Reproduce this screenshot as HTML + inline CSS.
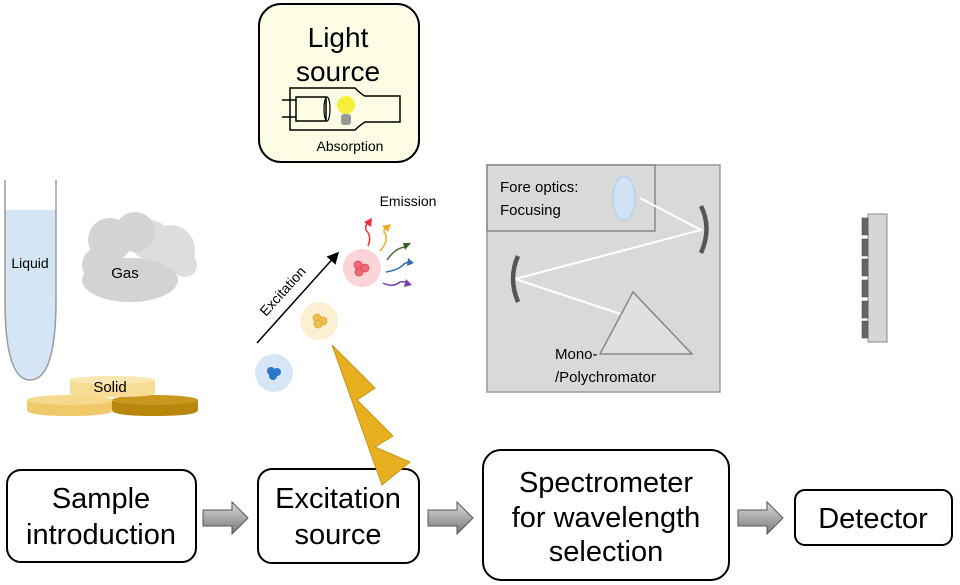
<!DOCTYPE html>
<html><head><meta charset="utf-8"><style>
html,body{margin:0;padding:0;background:#fff;}
svg{display:block;font-family:"Liberation Sans",Arial,sans-serif;}
</style></head><body>
<svg width="960" height="585" viewBox="0 0 960 585" xmlns="http://www.w3.org/2000/svg">
<defs>
<linearGradient id="ag" x1="0" y1="0" x2="0" y2="1"><stop offset="0" stop-color="#d8d8d8"/><stop offset="0.5" stop-color="#aaa"/><stop offset="1" stop-color="#777"/></linearGradient>
<marker id="ah" markerWidth="8" markerHeight="8" refX="6" refY="4" orient="auto"><path d="M0,0 L8,4 L0,8 z" fill="#000"/></marker>
</defs>
<!-- Light source -->
<rect x="259" y="4" width="160" height="158" rx="22" fill="#fdfde6" stroke="#000" stroke-width="2"/>
<text x="338" y="47" font-size="28" text-anchor="middle">Light</text>
<text x="338" y="81" font-size="28" text-anchor="middle">source</text>
<path d="M290,88 H355 Q362,95 365,96 H400 V122 H365 Q360,125 355,130 H290 Z" fill="none" stroke="#000" stroke-width="1.5"/>
<rect x="296" y="97" width="30" height="24" fill="none" stroke="#000" stroke-width="1.5"/>
<ellipse cx="327" cy="109" rx="3" ry="12" fill="none" stroke="#000" stroke-width="1.2"/>
<line x1="282" y1="100" x2="296" y2="100" stroke="#000" stroke-width="1.5"/>
<line x1="282" y1="117" x2="296" y2="117" stroke="#000" stroke-width="1.5"/>
<circle cx="346" cy="105" r="9" fill="#f7ee3a"/>
<rect x="341" y="114" width="10" height="11" rx="3" fill="#999"/>
<text x="350" y="151" font-size="14" text-anchor="middle">Absorption</text>
<!-- Liquid tube -->
<path d="M5,210 V300 Q5,380 30,380 Q56,380 56,300 V210 Z" fill="#d4e6f6"/>
<path d="M5,180 V300 Q5,380 30,380 Q56,380 56,300 V180" fill="none" stroke="#999" stroke-width="1.5"/>
<text x="30" y="268" font-size="14" text-anchor="middle">Liquid</text>
<!-- Gas cloud -->
<g fill="#ddd"><circle cx="170" cy="250" r="25"/><circle cx="150" cy="240" r="20"/><circle cx="185" cy="265" r="12"/></g>
<g fill="#d3d3d3"><ellipse cx="130" cy="280" rx="48" ry="22"/><circle cx="110" cy="240" r="22"/><circle cx="135" cy="232" r="20"/><circle cx="100" cy="265" r="18"/></g>
<text x="125" y="278" font-size="15" text-anchor="middle">Gas</text>
<!-- Solid discs -->
<path d="M112,400 V410 Q112,416 155,416 Q198,416 198,410 V400 Z" fill="#b8860b"/>
<ellipse cx="155" cy="400" rx="43" ry="5" fill="#c9961e"/>
<path d="M27,400 V410 Q27,416 70,416 Q112,416 112,410 V400 Z" fill="#f0c96a"/>
<ellipse cx="70" cy="400" rx="43" ry="5" fill="#f6d98a"/>
<path d="M70,380 V393 Q70,397 112,397 Q155,397 155,393 V380 Z" fill="#f7dc95"/>
<ellipse cx="112" cy="380" rx="43" ry="4" fill="#fae6b0"/>
<text x="110" y="392" font-size="15" text-anchor="middle">Solid</text>
<!-- Excitation -->
<line x1="257" y1="343" x2="337" y2="254" stroke="#000" stroke-width="1.5" marker-end="url(#ah)"/>
<text x="0" y="0" font-size="14" transform="translate(266,317) rotate(-48)">Excitation</text>
<circle cx="274" cy="373" r="19" fill="#d6e6f7"/>
<g fill="#2a76c8"><circle cx="271" cy="371" r="4"/><circle cx="277" cy="372" r="4"/><circle cx="273" cy="376" r="4"/></g>
<circle cx="319" cy="321" r="19" fill="#fdf0d2"/>
<g fill="#eebf50" stroke="#d9a52a" stroke-width="0.7"><circle cx="317" cy="318" r="4"/><circle cx="323" cy="321" r="4"/><circle cx="318" cy="324" r="4"/></g>
<circle cx="362" cy="268" r="19" fill="#fad4d6"/>
<g fill="#ee6672" stroke="#d4434f" stroke-width="0.7"><circle cx="358" cy="265" r="4"/><circle cx="365" cy="268" r="4"/><circle cx="359" cy="272" r="4"/></g>
<text x="408" y="206" font-size="14" text-anchor="middle">Emission</text>
<g fill="none" stroke-width="1.5">
<path d="M368,246 Q372,236 366,230 Q365,225 368,222" stroke="#e8333a"/>
<path d="M380,251 Q390,240 384,232 Q384,228 386,226" stroke="#e8b030"/>
<path d="M387,260 Q395,248 405,247" stroke="#4a6e3a"/>
<path d="M386,272 Q398,270 403,265 Q406,262 410,262" stroke="#2e6db0"/>
<path d="M383,283 Q393,288 400,282 Q404,281 408,283" stroke="#7a3fb0"/>
</g>
<g><path d="M364,222 L372,218 L371,227z" fill="#e8333a"/><path d="M382,226 L391,224 L388,232z" fill="#e8b030"/><path d="M403,243 L411,243 L405,250z" fill="#3a5e2a"/><path d="M408,258 L414,263 L407,266z" fill="#2e6db0"/><path d="M406,279 L412,285 L404,287z" fill="#7a3fb0"/></g>
<!-- Spectrometer panel -->
<rect x="487" y="165" width="233" height="227" fill="#d9d9d9" stroke="#999" stroke-width="1.5"/>
<rect x="487" y="165" width="168" height="66" fill="#d9d9d9" stroke="#888" stroke-width="1.5"/>
<text x="500" y="192" font-size="15">Fore optics:</text>
<text x="500" y="215" font-size="15">Focusing</text>
<ellipse cx="624" cy="198" rx="11" ry="22" fill="#cfe3f5" stroke="#a9cbe9"/>
<polyline points="640,198 701,230 515,279 648,323" fill="none" stroke="#fff" stroke-width="2"/>
<path d="M701,206 Q712,228 701,253" fill="none" stroke="#555" stroke-width="4.5"/>
<path d="M518,256 Q508,278 518,302" fill="none" stroke="#555" stroke-width="4.5"/>
<polygon points="633,292 600,354 692,354" fill="#e0e0e0" stroke="#888" stroke-width="1.5"/>
<text x="555" y="359" font-size="15">Mono-</text>
<text x="555" y="382" font-size="15">/Polychromator</text>
<!-- Detector array -->
<rect x="868" y="214" width="19" height="128" fill="#d6d6d6" stroke="#888"/>
<g fill="#666" stroke="#444" stroke-width="0.5">
<rect x="862" y="218" width="6" height="17"/><rect x="862" y="239" width="6" height="17"/><rect x="862" y="259" width="6" height="17"/><rect x="862" y="280" width="6" height="17"/><rect x="862" y="301" width="6" height="17"/><rect x="862" y="321" width="6" height="17"/>
</g>
<!-- Bottom boxes -->
<rect x="7" y="470" width="189" height="92" rx="14" fill="#fff" stroke="#000" stroke-width="2"/>
<text x="101" y="508" font-size="29" text-anchor="middle">Sample</text>
<text x="101" y="544" font-size="29" text-anchor="middle">introduction</text>
<rect x="258" y="469" width="161" height="94" rx="14" fill="#fff" stroke="#000" stroke-width="2"/>
<text x="338" y="508" font-size="29" text-anchor="middle">Excitation</text>
<text x="338" y="544" font-size="29" text-anchor="middle">source</text>
<rect x="483" y="450" width="246" height="130" rx="18" fill="#fff" stroke="#000" stroke-width="2"/>
<text x="606" y="492" font-size="29" text-anchor="middle">Spectrometer</text>
<text x="606" y="527" font-size="29" text-anchor="middle">for wavelength</text>
<text x="606" y="561" font-size="29" text-anchor="middle">selection</text>
<rect x="795" y="490" width="157" height="55" rx="10" fill="#fff" stroke="#000" stroke-width="2"/>
<text x="873" y="528" font-size="29" text-anchor="middle">Detector</text>
<!-- Lightning (drawn over box) -->
<polygon points="332,345 375,388 357,400 393,436 375,447 410,462 382,485" fill="#e8b020" stroke="#c99515" stroke-width="1"/>
<!-- Arrows -->
<g fill="url(#ag)" stroke="#555" stroke-width="1">
<path d="M203,510 H232 V502 L248,518 L232,534 V526 H203 Z"/>
<path d="M428,510 H457 V502 L473,518 L457,534 V526 H428 Z"/>
<path d="M738,510 H767 V502 L783,518 L767,534 V526 H738 Z"/>
</g>
</svg>
</body></html>
